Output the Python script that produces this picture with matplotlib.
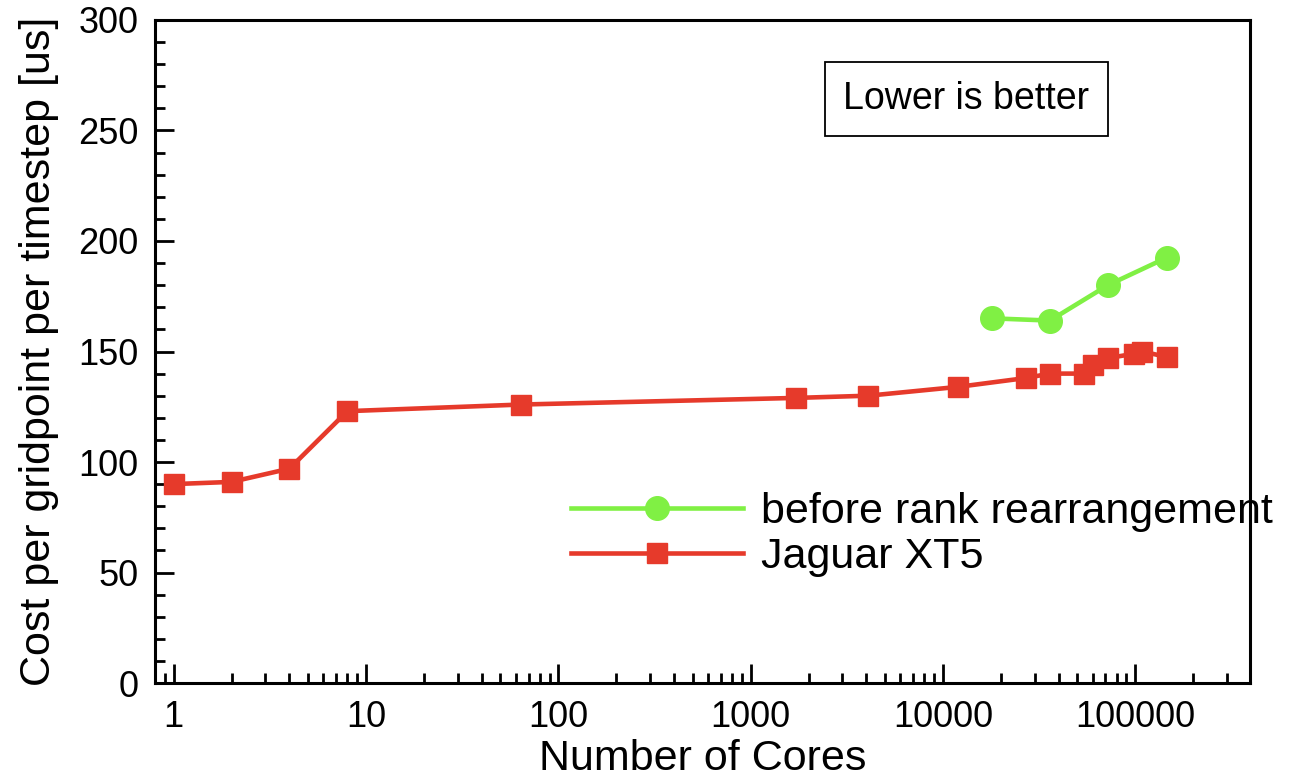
import matplotlib
matplotlib.use('Agg')
import matplotlib.pyplot as plt
from matplotlib.ticker import LogLocator, MultipleLocator, FixedLocator, NullFormatter

plt.rcParams['font.family'] = ['Liberation Sans', 'DejaVu Sans']

# Jaguar XT5 results
cores_xt5 = [1, 2, 4, 8, 64, 1728, 4096, 12000, 27000, 36000, 54000, 60000, 72000, 99000, 109000, 146000]
cost_xt5 = [90, 91, 97, 123, 126, 129, 130, 134, 138, 140, 140, 144, 147, 149, 150, 147.5]

# before rank rearrangement
cores_before = [18000, 36000, 72000, 146000]
cost_before = [165, 164, 180, 192.5]

xticks = [1, 10, 100, 1000, 10000, 100000]
xticklabels = ['1', '10', '100', '1000', '10000', '100000']

red = '#e63a2b'
green = '#80f044'

fig = plt.figure(figsize=(12.9, 7.78), dpi=100)
ax = fig.add_axes([0.1202, 0.1221, 0.8488, 0.8522])

l_red, = ax.plot(cores_xt5, cost_xt5, color=red, lw=3.3, marker='s', ms=15,
                 label='Jaguar XT5')
l_green, = ax.plot(cores_before, cost_before, color=green, lw=3.3, marker='o', ms=17,
                   label='before rank rearrangement')

ax.set_xscale('log')
ax.set_xlim(0.8, 395000)
ax.set_ylim(0, 300)

ax.xaxis.set_major_locator(FixedLocator(xticks))
ax.set_xticklabels(xticklabels)
ax.xaxis.set_minor_locator(LogLocator(base=10, subs=range(2, 10)))
ax.xaxis.set_minor_formatter(NullFormatter())
ax.yaxis.set_major_locator(MultipleLocator(50))
ax.yaxis.set_minor_locator(MultipleLocator(10))

ax.tick_params(which='both', direction='in', top=False, right=False,
               labelsize=26, width=2, pad=12)
ax.tick_params(which='major', length=14)
ax.tick_params(which='minor', length=7)
for s in ax.spines.values():
    s.set_linewidth(2.2)

ax.set_xlabel('Number of Cores', fontsize=31, labelpad=3)
ax.set_ylabel('Cost per gridpoint per timestep [us]', fontsize=31, labelpad=14)

ax.text(0.741, 0.881, 'Lower is better', transform=ax.transAxes, fontsize=27,
        ha='center', va='center',
        bbox=dict(boxstyle='square,pad=0.5', fc='white', ec='black', lw=1.3))

leg = ax.legend(handles=[l_green, l_red], loc='upper left',
                bbox_to_anchor=(0.38, 0.288), frameon=False, fontsize=31,
                handlelength=4, handletextpad=0.4, labelspacing=0.12,
                borderpad=0, borderaxespad=0)

fig.savefig('out.png', dpi=100)
